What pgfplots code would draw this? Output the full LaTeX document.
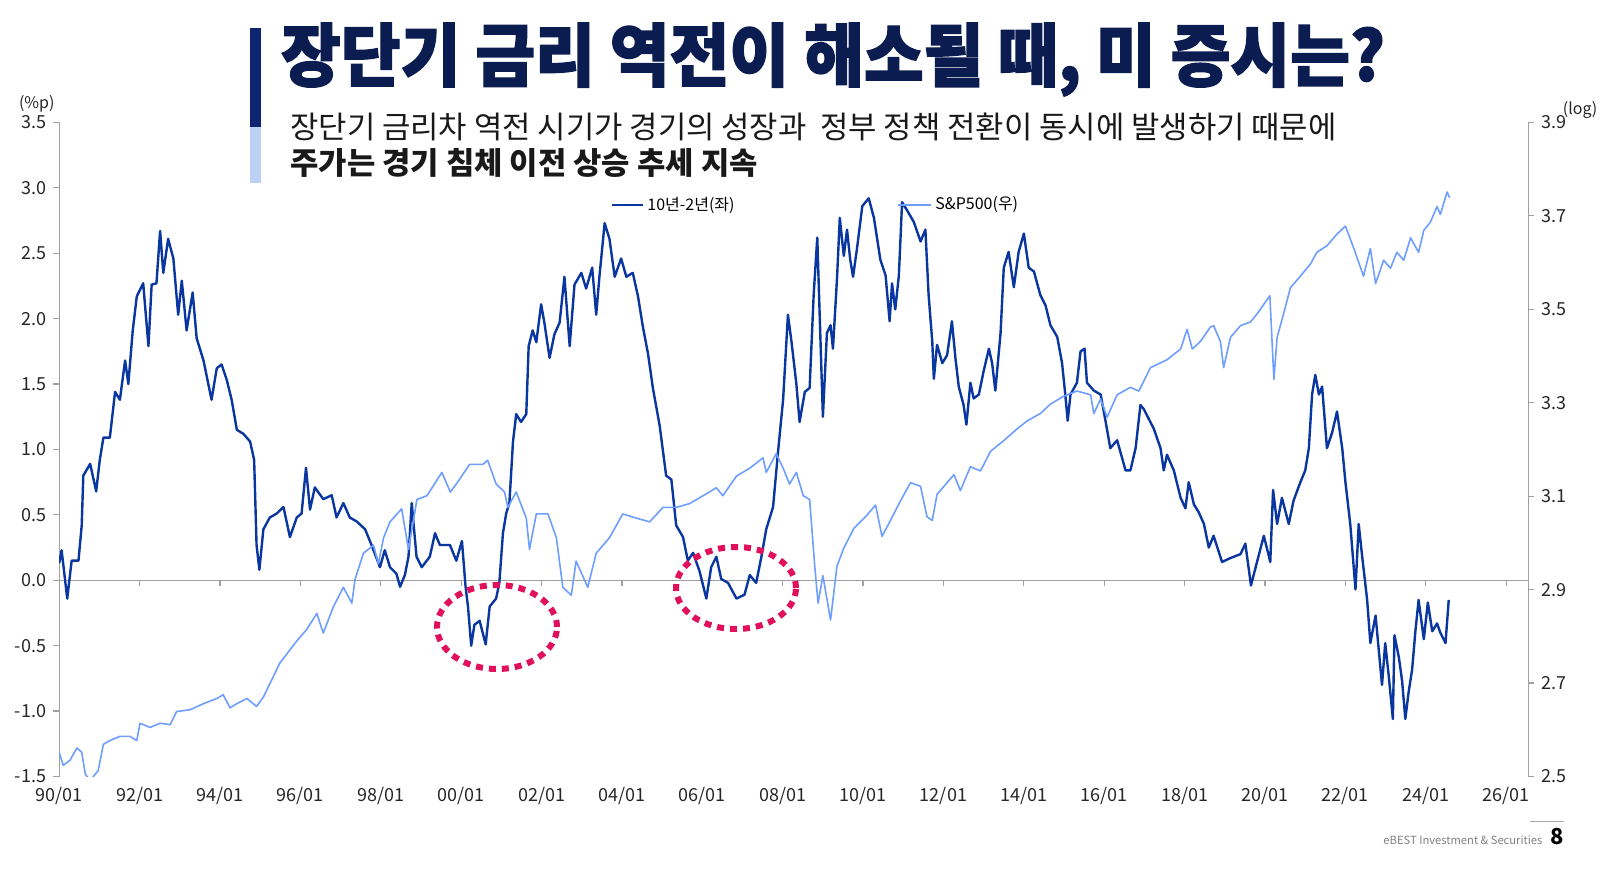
\documentclass[border=0pt]{standalone}
\usepackage{fontspec}
\setmainfont{Noto Sans CJK KR}
\usepackage{pgfplots}
\pgfplotsset{compat=1.18}

\definecolor{spread}{HTML}{0A36A0}
\definecolor{spx}{HTML}{6E9EFF}
\definecolor{navy}{HTML}{0B1C50}
\definecolor{bardark}{HTML}{0D2470}
\definecolor{barlight}{HTML}{BDD0F6}
\definecolor{ring}{HTML}{E0105C}
\definecolor{axgray}{HTML}{A0A0A0}

% 10y-2y spread (left axis, %p)
\pgfplotstableread{
year v
1990.00 0.13
1990.06 0.23
1990.20 -0.14
1990.31 0.15
1990.48 0.15
1990.56 0.42
1990.60 0.80
1990.77 0.89
1990.92 0.68
1991.01 0.92
1991.10 1.09
1991.26 1.09
1991.39 1.44
1991.51 1.38
1991.64 1.68
1991.72 1.50
1991.83 1.91
1991.93 2.17
1992.09 2.27
1992.22 1.79
1992.30 2.26
1992.42 2.27
1992.51 2.67
1992.59 2.35
1992.71 2.61
1992.84 2.46
1992.96 2.03
1993.05 2.29
1993.17 1.91
1993.32 2.20
1993.42 1.85
1993.59 1.68
1993.79 1.38
1993.92 1.62
1994.04 1.65
1994.17 1.53
1994.29 1.38
1994.42 1.15
1994.58 1.12
1994.75 1.06
1994.85 0.92
1994.91 0.27
1994.98 0.08
1995.08 0.39
1995.24 0.48
1995.41 0.51
1995.58 0.56
1995.74 0.33
1995.91 0.48
1996.03 0.51
1996.14 0.86
1996.24 0.54
1996.36 0.71
1996.57 0.62
1996.78 0.65
1996.90 0.48
1997.07 0.59
1997.23 0.48
1997.40 0.45
1997.61 0.39
1997.77 0.27
1997.98 0.10
1998.10 0.23
1998.23 0.10
1998.39 0.05
1998.48 -0.05
1998.60 0.04
1998.69 0.18
1998.77 0.59
1998.89 0.18
1999.02 0.10
1999.22 0.18
1999.35 0.36
1999.47 0.27
1999.72 0.27
1999.88 0.15
2000.02 0.30
2000.11 -0.05
2000.17 -0.20
2000.25 -0.50
2000.33 -0.34
2000.46 -0.31
2000.61 -0.49
2000.71 -0.20
2000.87 -0.14
2000.95 -0.02
2001.04 0.36
2001.12 0.51
2001.20 0.59
2001.29 1.06
2001.37 1.27
2001.49 1.21
2001.62 1.27
2001.68 1.79
2001.78 1.91
2001.87 1.82
2001.99 2.11
2002.07 1.97
2002.20 1.70
2002.32 1.88
2002.45 1.97
2002.57 2.32
2002.70 1.79
2002.82 2.26
2002.99 2.35
2003.11 2.23
2003.26 2.39
2003.36 2.03
2003.44 2.32
2003.57 2.73
2003.69 2.61
2003.82 2.32
2003.98 2.46
2004.11 2.32
2004.27 2.35
2004.40 2.17
2004.52 1.94
2004.65 1.73
2004.77 1.47
2004.94 1.18
2005.10 0.80
2005.23 0.77
2005.35 0.42
2005.52 0.33
2005.64 0.15
2005.77 0.21
2005.93 0.07
2006.10 -0.14
2006.22 0.10
2006.35 0.18
2006.47 0.01
2006.64 -0.02
2006.85 -0.14
2007.05 -0.11
2007.18 0.04
2007.34 -0.02
2007.47 0.18
2007.59 0.39
2007.76 0.56
2007.88 0.97
2008.01 1.38
2008.13 2.03
2008.22 1.82
2008.34 1.50
2008.42 1.21
2008.55 1.44
2008.67 1.47
2008.77 2.18
2008.86 2.62
2008.94 1.83
2009.00 1.25
2009.10 1.89
2009.19 1.95
2009.25 1.77
2009.35 2.30
2009.42 2.77
2009.52 2.48
2009.60 2.68
2009.68 2.45
2009.75 2.32
2009.85 2.54
2009.98 2.86
2010.14 2.92
2010.27 2.77
2010.43 2.45
2010.56 2.33
2010.66 1.98
2010.72 2.27
2010.80 2.07
2010.89 2.33
2010.97 2.89
2011.09 2.83
2011.26 2.74
2011.43 2.59
2011.55 2.68
2011.63 2.18
2011.72 1.83
2011.76 1.54
2011.84 1.80
2011.97 1.66
2012.09 1.72
2012.21 1.98
2012.30 1.69
2012.38 1.48
2012.50 1.34
2012.57 1.19
2012.67 1.51
2012.75 1.39
2012.88 1.42
2013.00 1.60
2013.13 1.77
2013.21 1.66
2013.29 1.45
2013.42 1.89
2013.50 2.39
2013.62 2.51
2013.75 2.24
2013.87 2.51
2014.00 2.65
2014.12 2.39
2014.25 2.36
2014.41 2.18
2014.54 2.10
2014.66 1.95
2014.83 1.86
2014.95 1.66
2015.03 1.42
2015.09 1.22
2015.16 1.42
2015.32 1.51
2015.41 1.75
2015.51 1.77
2015.57 1.51
2015.74 1.45
2015.91 1.42
2016.03 1.22
2016.15 1.01
2016.32 1.07
2016.53 0.84
2016.65 0.84
2016.78 1.01
2016.90 1.34
2016.98 1.31
2017.23 1.16
2017.40 1.01
2017.48 0.84
2017.56 0.96
2017.73 0.84
2017.90 0.63
2018.02 0.55
2018.10 0.75
2018.23 0.58
2018.35 0.52
2018.48 0.43
2018.60 0.25
2018.72 0.34
2018.93 0.14
2019.14 0.17
2019.39 0.20
2019.51 0.28
2019.65 -0.04
2019.80 0.14
2019.97 0.34
2020.13 0.14
2020.20 0.69
2020.30 0.43
2020.42 0.63
2020.59 0.43
2020.71 0.61
2020.88 0.75
2021.00 0.84
2021.09 1.01
2021.17 1.42
2021.25 1.57
2021.34 1.42
2021.42 1.48
2021.54 1.01
2021.67 1.13
2021.79 1.29
2021.92 1.01
2022.00 0.75
2022.12 0.43
2022.25 -0.07
2022.33 0.43
2022.41 0.20
2022.54 -0.15
2022.62 -0.48
2022.75 -0.27
2022.91 -0.80
2022.99 -0.48
2023.08 -0.74
2023.18 -1.06
2023.22 -0.42
2023.33 -0.59
2023.41 -0.77
2023.49 -1.06
2023.57 -0.86
2023.66 -0.68
2023.74 -0.39
2023.82 -0.15
2023.95 -0.45
2024.05 -0.17
2024.16 -0.39
2024.28 -0.33
2024.36 -0.40
2024.49 -0.48
2024.57 -0.15
}\spreadtable

% S&P500, log10 (right axis)
\pgfplotstableread{
year v
1990.00 2.552
1990.10 2.524
1990.27 2.535
1990.44 2.561
1990.56 2.552
1990.65 2.505
1990.77 2.491
1990.97 2.513
1991.10 2.569
1991.26 2.577
1991.51 2.586
1991.76 2.586
1991.93 2.577
1992.01 2.614
1992.26 2.605
1992.51 2.614
1992.76 2.611
1992.92 2.639
1993.26 2.643
1993.59 2.656
1993.92 2.667
1994.08 2.675
1994.25 2.647
1994.42 2.656
1994.67 2.667
1994.91 2.650
1995.08 2.670
1995.49 2.743
1995.91 2.790
1996.16 2.815
1996.41 2.849
1996.57 2.807
1996.82 2.863
1997.07 2.905
1997.28 2.871
1997.36 2.922
1997.57 2.978
1997.82 2.995
1997.94 2.955
1998.07 3.011
1998.23 3.045
1998.52 3.073
1998.69 2.986
1998.90 3.093
1999.15 3.101
1999.52 3.151
1999.73 3.109
1999.88 3.126
2000.21 3.168
2000.54 3.168
2000.66 3.177
2000.87 3.126
2001.08 3.109
2001.16 3.076
2001.37 3.109
2001.62 3.053
2001.70 2.986
2001.87 3.062
2002.16 3.062
2002.37 3.011
2002.53 2.905
2002.74 2.888
2002.86 2.961
2003.15 2.905
2003.36 2.978
2003.69 3.011
2004.02 3.062
2004.36 3.053
2004.69 3.045
2005.02 3.076
2005.35 3.076
2005.68 3.084
2006.02 3.101
2006.35 3.118
2006.51 3.101
2006.85 3.143
2007.18 3.160
2007.51 3.182
2007.59 3.151
2007.84 3.191
2008.01 3.160
2008.17 3.126
2008.34 3.151
2008.51 3.101
2008.67 3.093
2008.80 2.947
2008.88 2.871
2009.00 2.930
2009.19 2.835
2009.35 2.950
2009.52 2.989
2009.77 3.031
2010.06 3.056
2010.31 3.081
2010.47 3.014
2010.68 3.048
2010.93 3.090
2011.18 3.129
2011.43 3.121
2011.59 3.056
2011.72 3.048
2011.84 3.104
2012.09 3.129
2012.26 3.146
2012.42 3.112
2012.67 3.163
2012.92 3.154
2013.17 3.196
2013.50 3.219
2013.83 3.244
2014.08 3.261
2014.41 3.277
2014.66 3.297
2014.99 3.314
2015.32 3.325
2015.66 3.317
2015.74 3.277
2015.91 3.308
2016.07 3.269
2016.32 3.317
2016.65 3.333
2016.86 3.325
2017.15 3.375
2017.56 3.392
2017.90 3.415
2018.06 3.457
2018.19 3.415
2018.39 3.431
2018.64 3.462
2018.72 3.465
2018.89 3.431
2018.97 3.375
2019.14 3.440
2019.39 3.465
2019.64 3.473
2019.80 3.490
2020.12 3.529
2020.22 3.350
2020.30 3.440
2020.46 3.490
2020.63 3.546
2020.88 3.571
2021.13 3.597
2021.29 3.622
2021.54 3.636
2021.79 3.661
2022.00 3.678
2022.21 3.630
2022.45 3.571
2022.62 3.630
2022.75 3.555
2022.95 3.605
2023.12 3.588
2023.28 3.622
2023.45 3.605
2023.62 3.653
2023.82 3.622
2023.95 3.669
2024.11 3.686
2024.28 3.720
2024.36 3.703
2024.53 3.751
2024.59 3.739
}\spxtable

\begin{document}
\begin{tikzpicture}
\path[use as bounding box] (0pt,0pt) rectangle (800pt,-436pt);

% title block
\fill[bardark] (125pt,-14.2pt) rectangle (130.5pt,-63.3pt);
\fill[barlight] (125pt,-63.3pt) rectangle (130.5pt,-91.3pt);
\node[anchor=west, text=navy, inner sep=0pt] at (140.3pt,-29.75pt)
  {\scalebox{0.985}[1.04]{\fontsize{33}{33}\selectfont\bfseries\addfontfeatures{FakeBold=2}장단기 금리 역전이 해소될 때, 미 증시는?}};
\node[anchor=west, inner sep=0pt, text=black!90] at (145pt,-63.5pt)
  {\fontsize{15.4}{16}\selectfont 장단기 금리차 역전 시기가 경기의 성장과\ \ 정부 정책 전환이 동시에 발생하기 때문에};
\node[anchor=west, inner sep=0pt, text=black!90] at (145pt,-81.5pt)
  {\fontsize{15.4}{16}\selectfont\bfseries 주가는 경기 침체 이전 상승 추세 지속};

\begin{axis}[
  at={(29.6pt,-388.25pt)}, anchor=south west,
  scale only axis, width=734.55pt, height=327.05pt,
  xmin=1990, xmax=2026.55, ymin=-1.5, ymax=3.5,
  axis lines*=left,
  x axis line style={draw=none},
  y axis line style={axgray, line width=0.6pt},
  xtick={1990,1992,...,2026},
  xticklabels={90/01,92/01,94/01,96/01,98/01,00/01,02/01,04/01,06/01,08/01,10/01,12/01,14/01,16/01,18/01,20/01,22/01,24/01,26/01},
  major x tick style={draw=none},
  ytick={-1.5,-1,...,3.5},
  ytick style={axgray, line width=0.6pt},
  tick align=outside, major tick length=3pt,
  tick label style={font=\fontsize{9}{10}\selectfont, text=black!85},
  yticklabel style={/pgf/number format/.cd, fixed, fixed zerofill, precision=1, assume math mode=true},
  xticklabel style={yshift=1pt},
]
\draw[axgray, line width=0.6pt] (axis cs:1990,0) -- (axis cs:2026.55,0);
\pgfplotsinvokeforeach{1992,1994,...,2026}{
  \draw[axgray, line width=0.6pt] (axis cs:#1,0) -- ++(0pt,-3pt);
}
\addplot[spread, line width=1.2pt, line join=round] table[x=year, y=v] {\spreadtable};
\end{axis}

\begin{axis}[
  at={(29.6pt,-388.25pt)}, anchor=south west,
  scale only axis, width=734.55pt, height=327.05pt,
  xmin=1990, xmax=2026.55, ymin=2.5, ymax=3.9,
  axis x line=none,
  axis y line*=right,
  y axis line style={axgray, line width=0.6pt},
  ytick={2.5,2.7,2.9,3.1,3.3,3.5,3.7,3.9},
  ytick style={axgray, line width=0.6pt},
  tick align=outside, major tick length=3pt,
  tick label style={font=\fontsize{9}{10}\selectfont, text=black!85},
  yticklabel style={/pgf/number format/.cd, fixed, fixed zerofill, precision=1, assume math mode=true},
]
\addplot[spx, line width=0.8pt, line join=round] table[x=year, y=v] {\spxtable};
\end{axis}

% unit labels
\node[font=\fontsize{8}{9}\selectfont, text=black!85] at (18.4pt,-52pt) {(\%p)};
\node[font=\fontsize{8}{9}\selectfont, text=black!85] at (790pt,-55pt) {(log)};

% legend
\draw[spread, line width=1pt] (306pt,-102.5pt) -- (321.5pt,-102.5pt);
\node[anchor=west, inner sep=0pt, font=\fontsize{8}{9}\selectfont] at (323.5pt,-102.5pt) {10년-2년(좌)};
\draw[spx, line width=1pt] (449pt,-102.5pt) -- (465.5pt,-102.5pt);
\node[anchor=west, inner sep=0pt, font=\fontsize{8}{9}\selectfont] at (467.5pt,-102.5pt) {S\&P500(우)};

% highlighted inversions
\draw[ring, line width=3pt, dash pattern=on 3.5pt off 3pt] (248.5pt,-313.5pt) ellipse [x radius=30pt, y radius=21pt];
\draw[ring, line width=3pt, dash pattern=on 3.5pt off 3pt] (368pt,-294pt) ellipse [x radius=30pt, y radius=20.5pt];

% footer
\draw[gray!70, line width=0.5pt] (765pt,-410.85pt) -- (782pt,-410.85pt);
\node[anchor=east, inner sep=0pt, text=gray, font=\fontsize{5.6}{6}\selectfont] at (771.4pt,-420pt) {eBEST Investment \& Securities};
\node[anchor=east, inner sep=0pt, font=\fontsize{11}{12}\selectfont\bfseries] at (782pt,-418.4pt) {8};
\end{tikzpicture}
\end{document}
